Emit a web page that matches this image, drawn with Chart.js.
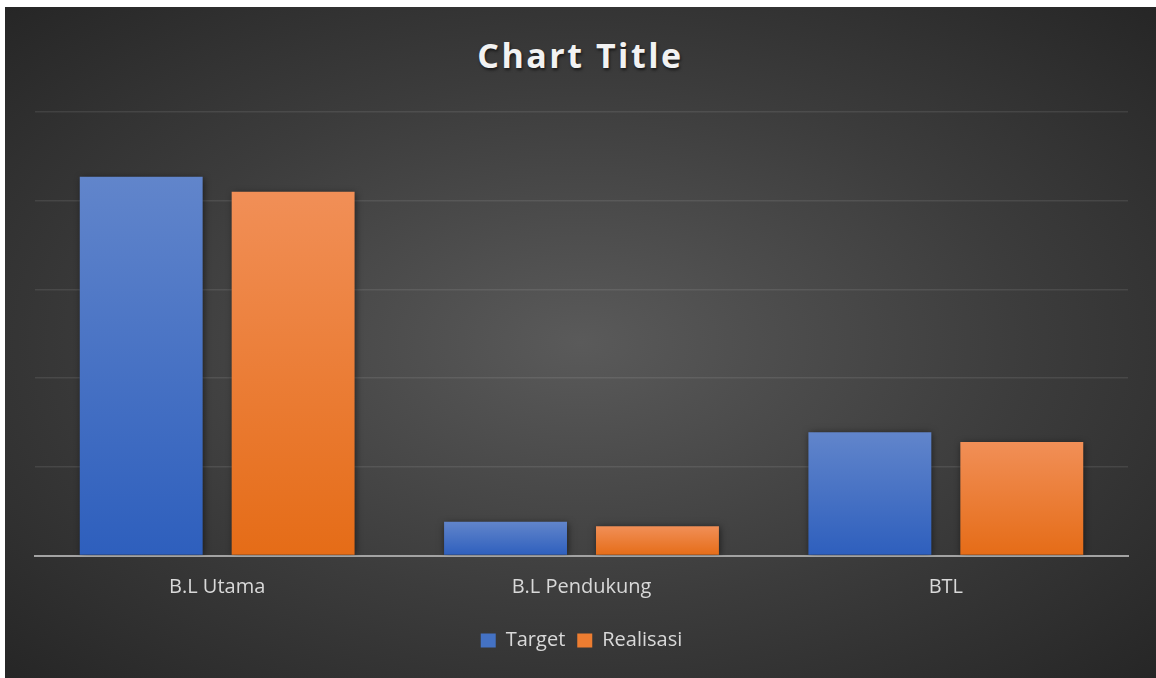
<!DOCTYPE html>
<html>
<head>
<meta charset="utf-8">
<script src="https://cdn.jsdelivr.net/npm/chart.js@4"></script>
<style>
  html, body { margin: 0; padding: 0; background: #fff; }
  #wrap {
    position: absolute; left: 5px; top: 7px; width: 1151px; height: 671px;
    background: radial-gradient(ellipse at 50% 50%, #5a5a5a 0%, #3c3c3c 55%, #262626 100%);
  }
  #title {
    position: absolute; left: 0; right: 0; top: 28px; text-align: center;
    font: bold 34px "Open Sans", sans-serif; letter-spacing: 2.5px; line-height: 40px;
    color: #f2f2f2; text-shadow: 1px 2px 3px rgba(0,0,0,0.6);
  }
  canvas { position: absolute; left: 0; top: 0; }
</style>
</head>
<body>
<div id="wrap">
  <div id="title">Chart Title</div>
  <canvas id="myChart" width="1151" height="671"></canvas>
</div>
<script>
const categories = ['B.L Utama', 'B.L Pendukung', 'BTL'];
const targetValues = [4.27, 0.38, 1.39];
const realisasiValues = [4.10, 0.33, 1.28];

const ctx = document.getElementById('myChart').getContext('2d');

// vertical gradient from bar top to the axis
function barFill(top, bottom, flat) {
    return function(c) {
        const chart = c.chart;
        const y = chart.scales.y;
        if (!y || c.parsed === undefined) return flat;
        const y0 = y.getPixelForValue(c.parsed.y);
        const y1 = y.getPixelForValue(0);
        if (!isFinite(y0) || !isFinite(y1) || y0 === y1) return flat;
        const g = chart.ctx.createLinearGradient(0, y0, 0, y1);
        g.addColorStop(0, top);
        g.addColorStop(1, bottom);
        return g;
    };
}

const barShadow = {
    id: 'barShadow',
    beforeDatasetsDraw(chart) {
        const c = chart.ctx;
        c.save();
        c.shadowColor = 'rgba(0,0,0,0.55)';
        c.shadowBlur = 7;
        c.shadowOffsetX = 1;
        c.shadowOffsetY = 1;
    },
    afterDatasetsDraw(chart) {
        chart.ctx.restore();
    }
};

const graphData = {
    type: 'bar',
    data: {
        labels: categories,
        datasets: [{
            label: 'Target',
            data: targetValues,
            backgroundColor: barFill('#6185cb', '#2e5fbd', '#4472c4'),
            categoryPercentage: 0.834,
            barPercentage: 0.809
        }, {
            label: 'Realisasi',
            data: realisasiValues,
            backgroundColor: barFill('#f18f57', '#e56c17', '#ed7d31'),
            categoryPercentage: 0.834,
            barPercentage: 0.809
        }]
    },
    options: {
        responsive: false,
        animation: false,
        layout: { padding: { left: 30, right: 28, top: 105, bottom: 17.5 } },
        scales: {
            x: {
                z: 1,
                grid: { display: false, drawTicks: false },
                border: { color: '#a3a3a3', width: 2 },
                ticks: { color: '#d9d9d9', padding: 20, font: { family: 'Open Sans', size: 20 } },
                afterFit(scale) { scale.height = 63; }
            },
            y: {
                min: 0,
                max: 5,
                ticks: { display: false, stepSize: 1 },
                border: { display: false },
                grid: { color: 'rgba(255,255,255,0.09)', lineWidth: 1.5, drawTicks: false }
            }
        },
        plugins: {
            title: { display: false },
            tooltip: { enabled: false },
            legend: {
                position: 'bottom',
                labels: {
                    color: '#d9d9d9',
                    boxWidth: 15,
                    boxHeight: 14,
                    padding: 12,
                    font: { family: 'Open Sans', size: 20 },
                    generateLabels(chart) {
                        return chart.data.datasets.map((ds, i) => ({
                            text: ds.label,
                            fillStyle: i === 0 ? '#4472c4' : '#ed7d31',
                            strokeStyle: 'rgba(0,0,0,0)',
                            lineWidth: 0,
                            fontColor: '#d9d9d9',
                            datasetIndex: i
                        }));
                    }
                }
            }
        }
    },
    plugins: [barShadow]
};
const myChart = new Chart(ctx, graphData);
</script>
</body>
</html>
